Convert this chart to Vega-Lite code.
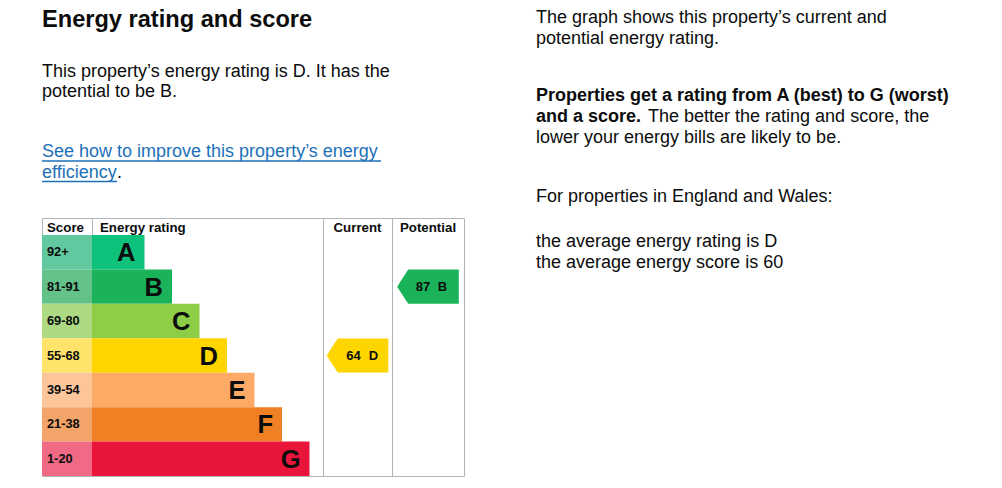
{
  "$schema": "https://vega.github.io/schema/vega-lite/v6.json",
  "background": "white",
  "padding": {"left": 41, "top": 0, "right": 0, "bottom": 0},
  "autosize": {"type": "pad"},
  "config": {
    "view": {"stroke": null},
    "font": "Liberation Sans",
    "text": {"font": "Liberation Sans", "color": "#0b0c0c"},
    "title": {"font": "Liberation Sans", "color": "#0b0c0c"}
  },
  "datasets": {
    "intro": [
      {"part": "heading", "line": 1, "baseline": 26.5, "text": "Energy rating and score"},
      {"part": "body", "line": 1, "baseline": 76.5, "text": "This property’s energy rating is D. It has the"},
      {"part": "body", "line": 2, "baseline": 97, "text": "potential to be B."},
      {"part": "link", "line": 1, "baseline": 157, "text": "See how to improve this property’s energy"},
      {"part": "link", "line": 2, "baseline": 177.5, "text": "efficiency"},
      {"part": "tail", "line": 2, "baseline": 177.5, "text": "."}
    ],
    "notes": [
      {"part": "body", "baseline": 22.5, "text": "The graph shows this property’s current and"},
      {"part": "body", "baseline": 43.5, "text": "potential energy rating."},
      {"part": "bold", "baseline": 100.5, "text": "Properties get a rating from A (best) to G (worst)"},
      {"part": "bold", "baseline": 121.5, "text": "and a score."},
      {"part": "after", "baseline": 121.5, "text": "The better the rating and score, the"},
      {"part": "body", "baseline": 142.5, "text": "lower your energy bills are likely to be."},
      {"part": "body", "baseline": 201.5, "text": "For properties in England and Wales:"},
      {"part": "body", "baseline": 246.5, "text": "the average energy rating is D"},
      {"part": "body", "baseline": 267.5, "text": "the average energy score is 60"}
    ],
    "bands": [
      {"rating": "A", "range": "92+", "rank": 1},
      {"rating": "B", "range": "81-91", "rank": 2},
      {"rating": "C", "range": "69-80", "rank": 3},
      {"rating": "D", "range": "55-68", "rank": 4},
      {"rating": "E", "range": "39-54", "rank": 5},
      {"rating": "F", "range": "21-38", "rank": 6},
      {"rating": "G", "range": "1-20", "rank": 7}
    ],
    "ratings": [
      {"kind": "Current", "score": 64, "rating": "D"},
      {"kind": "Potential", "score": 87, "rating": "B"}
    ]
  },
  "hconcat": [
    {
      "spacing": 0,
      "vconcat": [
        {
          "width": 422,
          "height": 217,
          "data": {"name": "intro"},
          "encoding": {
            "x": {"value": 0},
            "y": {"field": "baseline", "type": "quantitative", "scale": {"domain": [0, 217], "reverse": true, "nice": false, "zero": false}, "axis": null}
          },
          "layer": [
            {
              "transform": [{"filter": "datum.part == 'heading'"}],
              "mark": {"type": "text", "align": "left", "baseline": "alphabetic", "fontSize": 23.6, "fontWeight": "bold"},
              "encoding": {"text": {"field": "text"}}
            },
            {
              "transform": [{"filter": "datum.part == 'body'"}],
              "mark": {"type": "text", "align": "left", "baseline": "alphabetic", "fontSize": 18},
              "encoding": {"text": {"field": "text"}}
            },
            {
              "transform": [{"filter": "datum.part == 'tail'"}],
              "mark": {"type": "text", "align": "left", "baseline": "alphabetic", "fontSize": 18, "dx": 75},
              "encoding": {"text": {"field": "text"}}
            },
            {
              "transform": [{"filter": "datum.part == 'link'"}],
              "mark": {"type": "text", "align": "left", "baseline": "alphabetic", "fontSize": 18, "color": "#1d70b8"},
              "encoding": {"text": {"field": "text"}}
            },
            {
              "transform": [{"filter": "datum.part == 'link' && datum.line == 1"}],
              "mark": {"type": "rule", "color": "#1d70b8", "strokeWidth": 1.5, "yOffset": 4},
              "encoding": {"x2": {"value": 339}}
            },
            {
              "transform": [{"filter": "datum.part == 'link' && datum.line == 2"}],
              "mark": {"type": "rule", "color": "#1d70b8", "strokeWidth": 1.5, "yOffset": 4},
              "encoding": {"x2": {"value": 75}}
            }
          ]
        },
        {
          "spacing": 0,
          "bounds": "flush",
          "resolve": {"scale": {"y": "independent", "color": "independent", "x": "independent"}},
          "hconcat": [
            {
              "width": 50,
              "height": 258,
              "view": {"stroke": "#b1b4b6", "strokeWidth": 1},
              "title": {"text": "Score", "anchor": "start", "offset": -16, "dx": 5, "fontSize": 13.3, "fontWeight": "bold"},
              "data": {"name": "bands"},
              "encoding": {
                "y": {"field": "rating", "type": "nominal", "scale": {"domain": ["A", "B", "C", "D", "E", "F", "G"], "range": [17, 258], "paddingInner": 0, "paddingOuter": 0}, "axis": null}
              },
              "layer": [
                {
                  "mark": {"type": "rect"},
                  "encoding": {
                    "x": {"value": 0},
                    "x2": {"value": "width"},
                    "color": {"field": "rating", "type": "nominal", "legend": null,
                      "scale": {"domain": ["A", "B", "C", "D", "E", "F", "G"], "range": ["#62c89f", "#63c18a", "#acd982", "#ffe36a", "#fdc69a", "#f3a468", "#f06a85"]}}
                  }
                },
                {
                  "mark": {"type": "text", "align": "left", "baseline": "middle", "dx": 5, "fontSize": 12.8, "fontWeight": "bold"},
                  "encoding": {"x": {"value": 0}, "text": {"field": "range"}}
                }
              ]
            },
            {
              "width": 231,
              "height": 258,
              "view": {"stroke": "#b1b4b6", "strokeWidth": 1},
              "title": {"text": "Energy rating", "anchor": "start", "offset": -16, "dx": 8, "fontSize": 13.3, "fontWeight": "bold"},
              "data": {"name": "bands"},
              "encoding": {
                "y": {"field": "rating", "type": "nominal", "scale": {"domain": ["A", "B", "C", "D", "E", "F", "G"], "range": [17, 258], "paddingInner": 0, "paddingOuter": 0}, "axis": null},
                "x": {"field": "rank", "type": "quantitative", "scale": {"domain": [-0.909, 7.491], "nice": false, "zero": false}, "axis": null}
              },
              "layer": [
                {
                  "mark": {"type": "rect"},
                  "encoding": {
                    "x2": {"datum": -0.909},
                    "color": {"field": "rating", "type": "nominal", "legend": null,
                      "scale": {"domain": ["A", "B", "C", "D", "E", "F", "G"], "range": ["#0fc27b", "#1bb35a", "#8dce46", "#ffd500", "#fcaa65", "#ef8023", "#e9153b"]}}
                  }
                },
                {
                  "mark": {"type": "text", "align": "right", "baseline": "middle", "dx": -9, "dy": 1, "fontSize": 25.5, "fontWeight": "bold"},
                  "encoding": {"text": {"field": "rating"}}
                }
              ]
            },
            {
              "width": 69,
              "height": 258,
              "view": {"stroke": "#b1b4b6", "strokeWidth": 1},
              "title": {"text": "Current", "anchor": "middle", "offset": -16, "fontSize": 13.3, "fontWeight": "bold"},
              "data": {"name": "ratings"},
              "transform": [{"filter": "datum.kind == 'Current'"}],
              "encoding": {
                "y": {"field": "rating", "type": "nominal", "scale": {"domain": ["A", "B", "C", "D", "E", "F", "G"], "range": [17, 258], "paddingInner": 0, "paddingOuter": 0}, "axis": null}
              },
              "layer": [
                {
                  "mark": {"type": "point", "filled": true, "opacity": 1, "size": 3800, "strokeWidth": 0,
                    "shape": "M -1 0 L -0.643 -0.555 L 1 -0.555 L 1 0.555 L -0.643 0.555 Z"},
                  "encoding": {
                    "color": {"field": "rating", "type": "nominal", "legend": null,
                      "scale": {"domain": ["A", "B", "C", "D", "E", "F", "G"], "range": ["#0fc27b", "#1bb35a", "#8dce46", "#ffd500", "#fcaa65", "#ef8023", "#e9153b"]}}
                  }
                },
                {
                  "mark": {"type": "text", "align": "center", "baseline": "middle", "dx": -4, "dy": 0.5, "fontSize": 13, "fontWeight": "bold"},
                  "encoding": {"text": {"field": "score", "type": "quantitative"}}
                },
                {
                  "mark": {"type": "text", "align": "center", "baseline": "middle", "dx": 16, "dy": 0.5, "fontSize": 13, "fontWeight": "bold"},
                  "encoding": {"text": {"field": "rating"}}
                }
              ]
            },
            {
              "width": 72,
              "height": 258,
              "view": {"stroke": "#b1b4b6", "strokeWidth": 1},
              "title": {"text": "Potential", "anchor": "middle", "offset": -16, "fontSize": 13.3, "fontWeight": "bold"},
              "data": {"name": "ratings"},
              "transform": [{"filter": "datum.kind == 'Potential'"}],
              "encoding": {
                "y": {"field": "rating", "type": "nominal", "scale": {"domain": ["A", "B", "C", "D", "E", "F", "G"], "range": [17, 258], "paddingInner": 0, "paddingOuter": 0}, "axis": null}
              },
              "layer": [
                {
                  "mark": {"type": "point", "filled": true, "opacity": 1, "size": 3800, "strokeWidth": 0,
                    "shape": "M -1 0 L -0.643 -0.555 L 1 -0.555 L 1 0.555 L -0.643 0.555 Z"},
                  "encoding": {
                    "color": {"field": "rating", "type": "nominal", "legend": null,
                      "scale": {"domain": ["A", "B", "C", "D", "E", "F", "G"], "range": ["#0fc27b", "#1bb35a", "#8dce46", "#ffd500", "#fcaa65", "#ef8023", "#e9153b"]}}
                  }
                },
                {
                  "mark": {"type": "text", "align": "center", "baseline": "middle", "dx": -5, "dy": 0.5, "fontSize": 13, "fontWeight": "bold"},
                  "encoding": {"text": {"field": "score", "type": "quantitative"}}
                },
                {
                  "mark": {"type": "text", "align": "center", "baseline": "middle", "dx": 14.5, "dy": 0.5, "fontSize": 13, "fontWeight": "bold"},
                  "encoding": {"text": {"field": "rating"}}
                }
              ]
            }
          ]
        }
      ]
    },
    {
      "width": 440,
      "height": 475,
      "data": {"name": "notes"},
      "encoding": {
        "x": {"value": 0},
        "y": {"field": "baseline", "type": "quantitative", "scale": {"domain": [0, 475], "reverse": true, "nice": false, "zero": false}, "axis": null}
      },
      "layer": [
        {
          "transform": [{"filter": "datum.part == 'body'"}],
          "mark": {"type": "text", "align": "left", "baseline": "alphabetic", "fontSize": 18},
          "encoding": {"text": {"field": "text"}}
        },
        {
          "transform": [{"filter": "datum.part == 'bold'"}],
          "mark": {"type": "text", "align": "left", "baseline": "alphabetic", "fontSize": 18, "fontWeight": "bold"},
          "encoding": {"text": {"field": "text"}}
        },
        {
          "transform": [{"filter": "datum.part == 'after'"}],
          "mark": {"type": "text", "align": "left", "baseline": "alphabetic", "fontSize": 18, "dx": 112},
          "encoding": {"text": {"field": "text"}}
        }
      ]
    }
  ],
  "spacing": 71
}
